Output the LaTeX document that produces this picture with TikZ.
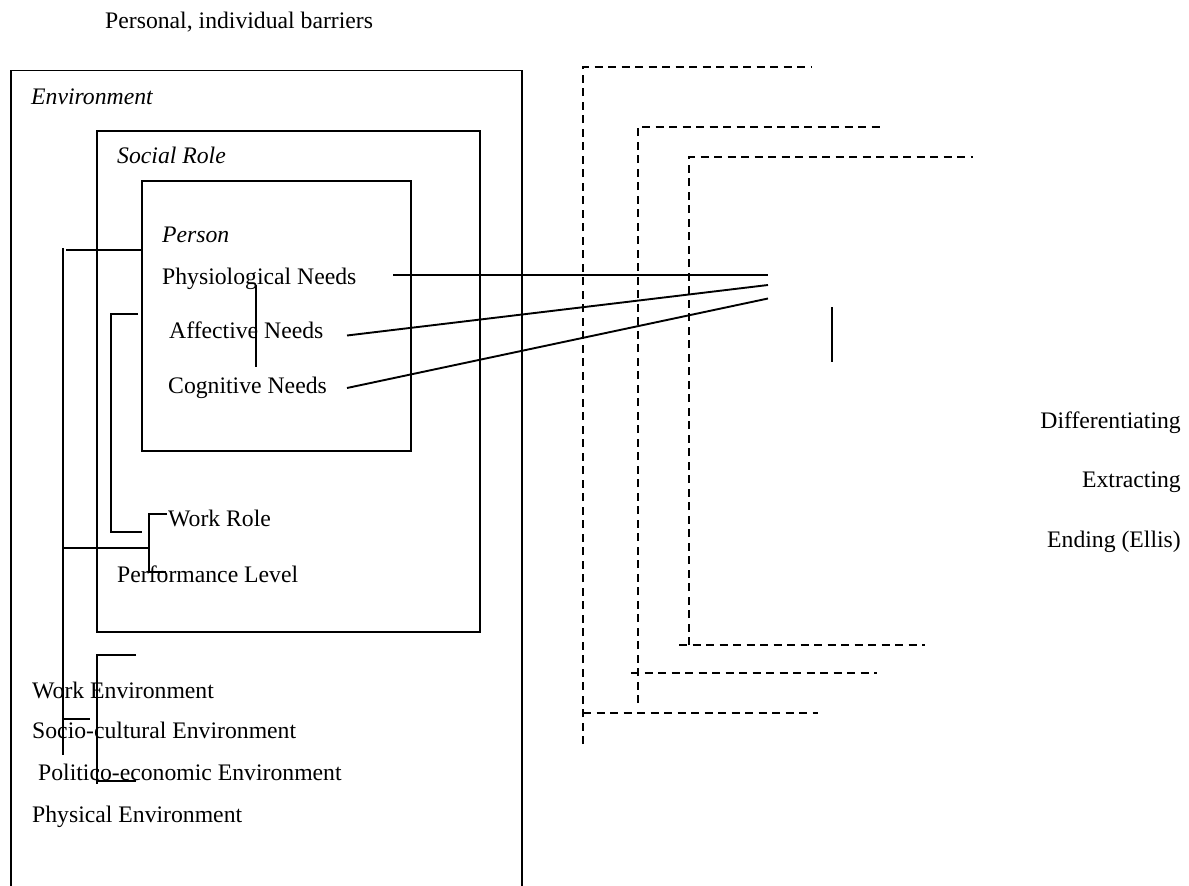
\documentclass[tikz,border=0pt]{standalone}
\usepackage{fontspec}
\setmainfont{Liberation Serif}
\begin{document}
\begin{tikzpicture}[x=1pt,y=-1pt,
  lbl/.style={anchor=base west, inner sep=0pt, font=\fontsize{23.7}{28}\selectfont},
  ilbl/.style={lbl, font=\fontsize{23.7}{28}\selectfont\itshape},
  rlbl/.style={lbl, anchor=base east},
  ln/.style={line width=1.9pt},
  dl/.style={line width=1.9pt, dash pattern=on 8pt off 5.5pt},
  boxnode/.style={draw, line width=1.9pt, inner sep=0pt, anchor=north west}]
\useasboundingbox (0,0) rectangle (1189,886);

% boxes
\draw[ln] (11,886) -- (11,70.5) -- (522,70.5) -- (522,886);
\node[boxnode, minimum width=383pt, minimum height=501pt] (social) at (95.7,130) {};
\node[boxnode, minimum width=269pt, minimum height=270pt] (person) at (141.3,180) {};

% labels
\node[lbl] (title) at (105,28) {Personal, individual barriers};
\node[ilbl] (env) at (31,104) {Environment};
\node[ilbl] (soc) at (117,163) {Social Role};
\node[ilbl] (per) at (162,242) {Person};
\node[lbl] (phys) at (162,284) {Physiological Needs};
\node[lbl] (aff) at (169,338) {Affective Needs};
\node[lbl] (cog) at (168,393) {Cognitive Needs};
\node[lbl] (work) at (168,526) {Work Role};
\node[lbl] (perf) at (117,582) {Performance Level};
\node[lbl] (wenv) at (32,698) {Work Environment};
\node[lbl] (senv) at (32,738) {Socio-cultural Environment};
\node[lbl] (penv) at (38,780) {Politico-economic Environment};
\node[lbl] (phenv) at (32,822) {Physical Environment};
\node[rlbl] (diff) at (1181,428) {Differentiating};
\node[rlbl] (extr) at (1181,487) {Extracting};
\node[rlbl] (endg) at (1181,547) {Ending (Ellis)};

% connector points
\coordinate (p1) at (768,275);
\coordinate (p2) at (768,285);
\coordinate (p3) at (768,298.5);

% lines from needs
\draw[ln] (393,275) -- (p1);
\draw[ln] (347,335.5) -- (p2);
\draw[ln] (347,388) -- (p3);
\draw[ln] (256,285) -- (256,367);
\draw[ln] (832,307) -- (832,362);

% left brackets
\draw[ln] (63,248) -- (63,755);
\draw[ln] (66,250) -- (141.3,250);
\draw[ln] (63,548) -- (149,548);
\draw[ln] (63,719) -- (90,719);
\draw[ln] (138,314) -- (111,314) -- (111,532) -- (142,532);
\draw[ln] (167,514) -- (149,514) -- (149,572) -- (166,572);
\draw[ln] (136,655) -- (97,655) -- (97,784);
\draw[ln] (97,781) -- (136,781);

% dashed brackets
\draw[dl] (583,744) -- (583,67) -- (811,67);
\draw[dl] (583,713) -- (818,713);
\draw[dl] (637.7,703) -- (637.7,127) -- (883,127);
\draw[dl] (631,673) -- (877,673);
\draw[dl] (689,645) -- (689,157) -- (973,157);
\draw[dl] (679,645) -- (925,645);
\end{tikzpicture}
\end{document}
